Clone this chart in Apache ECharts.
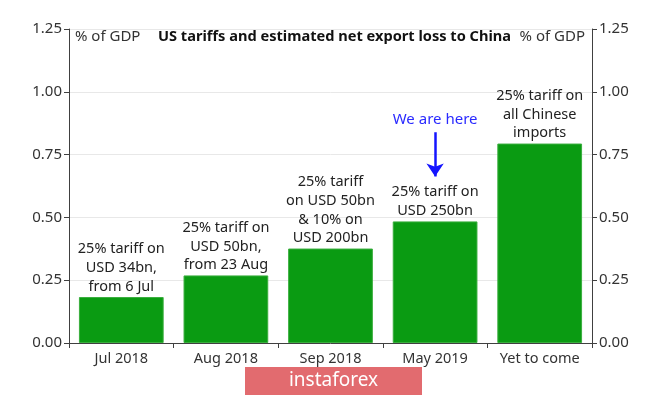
<!DOCTYPE html>
<html>
<head>
<meta charset="utf-8">
<script src="https://cdn.jsdelivr.net/npm/echarts@6/dist/echarts.min.js"></script>
<style>
html,body{margin:0;padding:0;background:#fff;}
#chart{width:665px;height:397px;}
</style>
</head>
<body>
<div id="chart"></div>
<script>
var categories = ['Jul 2018', 'Aug 2018', 'Sep 2018', 'May 2019', 'Yet to come'];
var values = [0.183, 0.269, 0.376, 0.484, 0.794];
var barNotes = [
  '25% tariff on\nUSD 34bn,\nfrom 6 Jul',
  '25% tariff on\nUSD 50bn,\nfrom 23 Aug',
  '25% tariff\non USD 50bn\n& 10% on\nUSD 200bn',
  '25% tariff on\nUSD 250bn',
  '25% tariff on\nall Chinese\nimports'
];
var yTicks = [0, 0.25, 0.5, 0.75, 1.0, 1.25];
var titleText = 'US tariffs and estimated net export loss to China';
var unitText = '% of GDP';
var pointerCategory = 'May 2019';
var pointerText = 'We are here';
var pointerFrom = 0.839;
var pointerTo = 0.663;

var FONT = 'Noto Sans';
var chart = echarts.init(document.getElementById('chart'));

function yAxisDef(pos) {
  return {
    type: 'value',
    position: pos,
    min: yTicks[0],
    max: yTicks[yTicks.length - 1],
    interval: 0.25,
    axisLine: {show: true, lineStyle: {color: '#404040', width: 1}},
    axisTick: {show: true, length: 5, lineStyle: {color: '#404040'}},
    axisLabel: {
      color: '#333', fontFamily: FONT, fontSize: 15, margin: 7,
      formatter: function (v) { return v.toFixed(2); }
    },
    splitLine: {show: pos === 'left', lineStyle: {color: '#e8e8e8', width: 1}}
  };
}

chart.setOption({
  animation: false,
  backgroundColor: '#fff',
  grid: {left: 69, right: 73, top: 29, bottom: 54},
  xAxis: {
    type: 'category',
    data: categories,
    axisLine: {show: true, lineStyle: {color: '#404040', width: 1}},
    axisTick: {show: true, interval: 0, length: 5, lineStyle: {color: '#404040'}},
    axisLabel: {interval: 0, hideOverlap: false, color: '#333', fontFamily: FONT, fontSize: 14.5, margin: 8}
  },
  yAxis: [yAxisDef('left'), yAxisDef('right')],
  graphic: [
    {type: 'text', left: 75, top: 29, style: {text: unitText, fill: '#333', font: '15px "' + FONT + '"'}},
    {type: 'text', right: 80, top: 29, style: {text: unitText, fill: '#333', font: '15px "' + FONT + '"'}},
    {type: 'text', left: 158, top: 29, style: {text: titleText, fill: '#111', font: 'bold 14.6px "' + FONT + '"'}},
    {
      type: 'group', left: 245, top: 367,
      children: [
        {type: 'rect', shape: {x: 0, y: 0, width: 177, height: 28}, style: {fill: '#e26b6f'}},
        {type: 'text', style: {x: 88.5, y: 14, text: 'instaforex', fill: '#fff', font: '19px "' + FONT + '"', align: 'center', verticalAlign: 'middle'}}
      ]
    }
  ],
  series: [{
    type: 'bar',
    data: values,
    barCategoryGap: '19%',
    itemStyle: {color: '#0a9b12', borderColor: '#3aae3e', borderWidth: 1},
    label: {
      show: true,
      position: 'top',
      distance: 1,
      color: '#222',
      fontFamily: FONT,
      fontSize: 14.5,
      lineHeight: 18.7,
      formatter: function (p) { return barNotes[p.dataIndex]; }
    },
    markLine: {
      silent: true,
      symbol: ['none', 'arrow'],
      symbolSize: 13,
      lineStyle: {color: '#1414ff', width: 2.5, type: 'solid'},
      label: {
        show: true, position: 'start', formatter: pointerText,
        color: '#2a2aff', fontFamily: FONT, fontSize: 15, distance: 5
      },
      data: [[
        {coord: [pointerCategory, pointerFrom]},
        {coord: [pointerCategory, pointerTo]}
      ]]
    }
  }]
});
</script>
</body>
</html>
